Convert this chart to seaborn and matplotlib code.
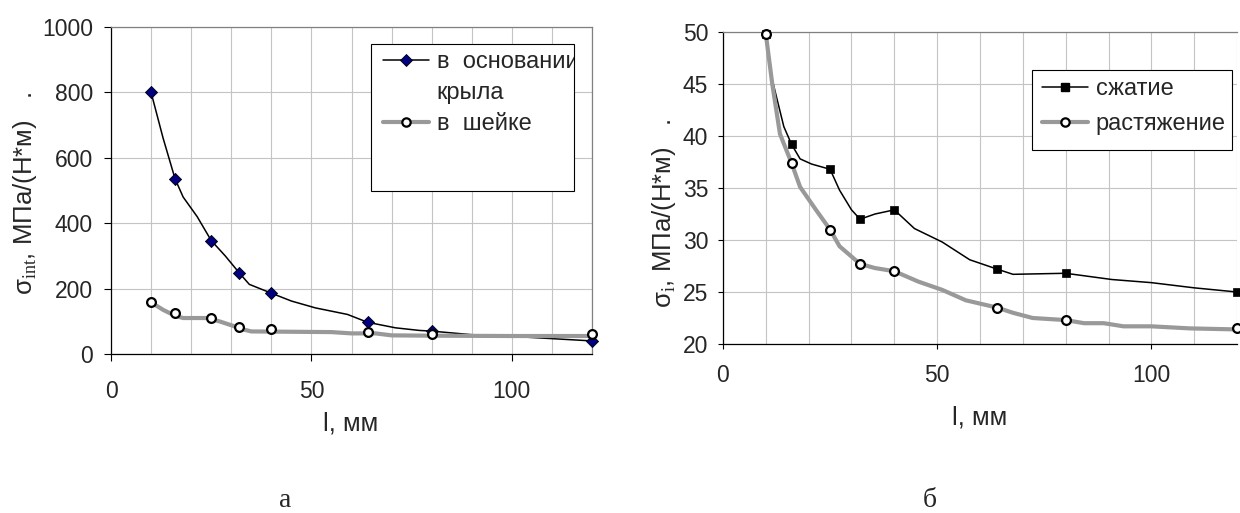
import matplotlib
matplotlib.use('Agg')
import matplotlib.pyplot as plt
from matplotlib.lines import Line2D
from matplotlib.patches import Rectangle
from matplotlib.ticker import MultipleLocator
import seaborn as sns

#--------------------------------------------------------
# measured points (l, mm)
l_mm=[10, 16, 25, 32, 40, 64, 80, 120]
a_base=[800, 535, 347, 248, 186, 97, 70, 40]
a_neck=[158, 124, 110, 82, 75, 67, 61, 62]
b_comp=[49.8, 39.2, 36.8, 32.0, 32.9, 27.2, 26.8, 25.0]
b_tens=[49.8, 37.4, 31.0, 27.7, 27.0, 23.5, 22.3, 21.5]

# smoothed curves as drawn on the chart
a_base_lx=[10, 13, 16, 18, 21.5, 25, 28.5, 32, 34.5, 40, 45, 51, 59, 64, 71, 77, 80, 90, 100, 110, 120]
a_base_ly=[800, 660, 535, 480, 420, 347, 300, 248, 213, 186, 162, 141, 121, 97, 80, 72, 70, 59, 54, 47, 40]
a_neck_lx=[10, 13, 16, 18, 24, 27, 30, 33, 35, 45, 55, 60, 66, 70, 80, 100, 120]
a_neck_ly=[158, 135, 117, 110, 110, 100, 88, 75, 69, 68, 67, 63, 63, 57, 56, 55, 55]
b_comp_lx=[10, 11.5, 14.2, 16, 18, 20.7, 25, 27.2, 30, 32, 35.5, 40, 44.7, 51.2, 57.6, 64, 67.7, 80, 90.8, 100, 110, 120]
b_comp_ly=[49.8, 45.4, 40.9, 39.2, 37.8, 37.3, 36.8, 34.8, 32.9, 32.0, 32.5, 32.9, 31.1, 29.8, 28.1, 27.2, 26.7, 26.8, 26.2, 25.9, 25.4, 25.0]
b_tens_lx=[10, 11.5, 13.3, 16, 18, 21.7, 25, 27.2, 32, 35.5, 40, 45.6, 51.2, 56.7, 64, 67.7, 72.3, 80, 84.3, 88.9, 93.5, 100, 109, 120]
b_tens_ly=[49.8, 45.0, 40.2, 37.4, 35.1, 32.9, 31.0, 29.4, 27.7, 27.3, 27.0, 26.0, 25.2, 24.2, 23.5, 23.0, 22.5, 22.3, 22.0, 22.0, 21.7, 21.7, 21.5, 21.4]

#--------------------------------------------------------
sns.set_style('white')
plt.rcParams['font.family']=['Liberation Sans', 'DejaVu Sans']
plt.rcParams['mathtext.fontset']='custom'
plt.rcParams['mathtext.rm']='Liberation Serif'

W, H=1240, 513
def box(l, t, r, b):
	return [l/W, 1-b/H, (r-l)/W, (b-t)/H]

fig=plt.figure(figsize=(W/100, H/100), dpi=100)
ax1=fig.add_axes(box(111, 27, 592, 354))
ax2=fig.add_axes(box(723, 32, 1237, 344))

grey='#999999'

def style_ax(ax, ylim, ystep, tl, xpad, ypad):
	ax.set_xlim(0, 120)
	ax.set_ylim(*ylim)
	ax.set_xlabel('')
	ax.set_ylabel('')
	ax.xaxis.set_major_locator(MultipleLocator(50))
	ax.xaxis.set_minor_locator(MultipleLocator(10))
	ax.yaxis.set_major_locator(MultipleLocator(ystep))
	ax.set_axisbelow(True)
	ax.grid(True, which='both', axis='x', color='#c4c4c4', lw=0.8)
	ax.grid(True, which='major', axis='y', color='#c4c4c4', lw=0.8)
	ax.tick_params(which='major', direction='out', length=tl, width=0.8, color='black', labelsize=16.5, left=True, bottom=True)
	ax.tick_params(which='minor', length=0)
	ax.tick_params(axis='x', pad=xpad)
	ax.tick_params(axis='y', pad=ypad)
	for s in ['left', 'bottom']:
		ax.spines[s].set_color('black')
		ax.spines[s].set_linewidth(0.9)
	for s in ['top', 'right']:
		ax.spines[s].set_color('#808080')
		ax.spines[s].set_linewidth(0.9)

#left chart
sns.lineplot(x=a_base_lx, y=a_base_ly, ax=ax1, color='black', lw=1.1, sort=False, estimator=None, zorder=2)
sns.lineplot(x=a_neck_lx, y=a_neck_ly, ax=ax1, color=grey, lw=3, sort=False, estimator=None, zorder=2.5)
sns.scatterplot(x=l_mm, y=a_base, ax=ax1, marker='D', s=38, color='#000080', edgecolor='black', linewidth=0.6, zorder=3, clip_on=False)
sns.scatterplot(x=l_mm, y=a_neck, ax=ax1, marker='o', s=40, color='white', edgecolor='black', linewidth=1.6, zorder=3.5, clip_on=False)
style_ax(ax1, (0, 1000), 200, 5, 14, 8)

#right chart
sns.lineplot(x=b_comp_lx, y=b_comp_ly, ax=ax2, color='black', lw=1.1, sort=False, estimator=None, zorder=2)
sns.lineplot(x=b_tens_lx, y=b_tens_ly, ax=ax2, color=grey, lw=3, sort=False, estimator=None, zorder=2.5)
sns.scatterplot(x=l_mm, y=b_comp, ax=ax2, marker='s', s=36, color='black', edgecolor='black', linewidth=0.5, zorder=3, clip_on=False)
sns.scatterplot(x=l_mm, y=b_tens, ax=ax2, marker='o', s=40, color='white', edgecolor='black', linewidth=1.6, zorder=3.5, clip_on=False)
style_ax(ax2, (20, 50), 5, 3.6, 11, 7)
ax2.spines['right'].set_visible(False)

#legends (frame drawn separately so the text is cut at its edge, as in the original)
def add_legend(ax, handles, labels, frame, anchor, spacing):
	l, t, r, b=frame
	rect=Rectangle((l/W, 1-b/H), (r-l)/W, (b-t)/H, transform=fig.transFigure,
		facecolor='white', edgecolor='black', lw=0.8, zorder=4, clip_on=False)
	ax.add_patch(rect)
	leg=ax.legend(handles, labels, loc='upper left', bbox_to_anchor=(anchor[0]/W, 1-anchor[1]/H),
		bbox_transform=fig.transFigure, frameon=False, borderpad=0, borderaxespad=0,
		handlelength=1.95, handletextpad=0.33, labelspacing=spacing, fontsize=17)
	leg.set_zorder(5)
	for txt in leg.get_texts():
		txt.set_clip_path(rect)
	return leg

h_base=Line2D([], [], color='black', lw=1.1, marker='D', ms=6, mfc='#000080', mec='black', mew=0.6)
h_gap=Line2D([], [], color='none')
h_neck=Line2D([], [], color=grey, lw=3, marker='o', ms=6, mfc='white', mec='black', mew=1.6)
add_legend(ax1, [h_base, h_gap, h_neck], ['в  основании', 'крыла', 'в  шейке'], (371, 44, 574, 191), (383, 51), 0.38)

h_comp=Line2D([], [], color='black', lw=1.1, marker='s', ms=6, mfc='black', mec='black')
h_tens=Line2D([], [], color=grey, lw=3, marker='o', ms=6, mfc='white', mec='black', mew=1.6)
add_legend(ax2, [h_comp, h_tens], ['сжатие', 'растяжение'], (1032, 70, 1232, 150), (1042, 78), 0.55)

#labels
fig.text(25/W, 1-193/H, 'σ$_{\\mathrm{int}}$, МПа/(Н*м)   .', rotation=90, ha='center', va='center', fontsize=18.5)
fig.text(664/W, 1-213/H, 'σ$_{\\mathrm{i}}$, МПа/(Н*м)   .', rotation=90, ha='center', va='center', fontsize=18.5)
fig.text(351/W, 1-424/H, 'l, мм', ha='center', va='center', fontsize=18.5)
fig.text(980/W, 1-418/H, 'l, мм', ha='center', va='center', fontsize=18.5)
fig.text(285/W, 6/H, 'а', ha='center', va='baseline', fontsize=20, family=['Liberation Serif', 'DejaVu Serif'])
fig.text(930/W, 6/H, 'б', ha='center', va='baseline', fontsize=20, family=['Liberation Serif', 'DejaVu Serif'])

fig.savefig('out.png', dpi=100)
plt.close()
